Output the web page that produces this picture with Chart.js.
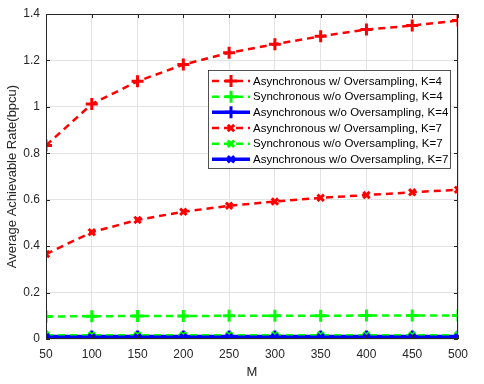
<!DOCTYPE html>
<html><head><meta charset="utf-8">
<script src="https://cdn.jsdelivr.net/npm/chart.js@4.4.0/dist/chart.umd.min.js"></script>
<style>html,body{margin:0;padding:0;background:#fff;}#wrap{width:484px;height:384px;}</style>
</head><body><div id="wrap"><canvas id="c" width="484" height="384"></canvas></div>
<script>
const M = [50,100,150,200,250,300,350,400,450,500];
const asyncOvK4 = [0.834,1.012,1.110,1.182,1.233,1.270,1.304,1.333,1.350,1.372];
const syncK4 = [0.097,0.098,0.099,0.099,0.100,0.100,0.100,0.101,0.101,0.101];
const asyncNoK4 = [0.011,0.011,0.011,0.011,0.011,0.011,0.011,0.011,0.011,0.011];
const asyncOvK7 = [0.366,0.460,0.513,0.548,0.574,0.592,0.608,0.620,0.632,0.643];
const syncK7 = [0.016,0.016,0.016,0.016,0.016,0.016,0.016,0.016,0.016,0.016];
const asyncNoK7 = [0.008,0.008,0.008,0.008,0.008,0.008,0.008,0.008,0.008,0.008];
const labels = ["Asynchronous w/ Oversampling, K=4","Synchronous w/o Oversampling, K=4","Asynchronous w/o Oversampling, K=4","Asynchronous w/ Oversampling, K=7","Synchronous w/o Oversampling, K=7","Asynchronous w/o Oversampling, K=7"];
const yTicks = [0,0.2,0.4,0.6,0.8,1,1.2,1.4];

const RED='#ff0000', GREEN='#00ff00', BLUE='#0000ff';
const series = [
 {v:asyncOvK4, c:RED, dash:[7,5], w:2.5, ps:'cross', r:6},
 {v:syncK4, c:GREEN, dash:[7,5], w:2.5, ps:'cross', r:6},
 {v:asyncNoK4, c:BLUE, dash:[], w:3.5, ps:'cross', r:6},
 {v:asyncOvK7, c:RED, dash:[7,5], w:2.5, ps:'crossRot', r:4.5},
 {v:syncK7, c:GREEN, dash:[7,5], w:2.5, ps:'crossRot', r:4.5},
 {v:asyncNoK7, c:BLUE, dash:[], w:3.5, ps:'crossRot', r:4.5}
];
const datasets = series.map((s,i)=>({
  label: labels[i],
  data: M.map((m,j)=>({x:m,y:s.v[j]})),
  borderColor:s.c, backgroundColor:s.c, borderWidth:s.w, borderDash:s.dash,
  pointStyle:s.ps, pointRadius:s.r, pointBorderWidth:3, pointBorderColor:s.c,
  pointHoverRadius:s.r, fill:false, tension:0, order:6-i
}));

const FONT = "'Liberation Sans', Arial, sans-serif";
const framePlugin = {
  id:'frame',
  afterDraw(chart){
    const ctx=chart.ctx, a=chart.chartArea;
    ctx.save();
    ctx.strokeStyle='#262626'; ctx.lineWidth=1; ctx.setLineDash([]);
    ctx.strokeRect(a.left+0.5,a.top+0.5,a.right-a.left-1,a.bottom-a.top-1);
    const xs=chart.scales.x, ys=chart.scales.y;
    ctx.beginPath();
    M.forEach(m=>{const px=Math.round(xs.getPixelForValue(m))+0.5;
      ctx.moveTo(px,a.bottom);ctx.lineTo(px,a.bottom-4);ctx.moveTo(px,a.top);ctx.lineTo(px,a.top+4);});
    yTicks.forEach(t=>{const py=Math.round(ys.getPixelForValue(t))+0.5;
      ctx.moveTo(a.left,py);ctx.lineTo(a.left+4,py);ctx.moveTo(a.right,py);ctx.lineTo(a.right-4,py);});
    ctx.stroke();
    const lx=208, ly=70, lw=242, lh=98;
    ctx.fillStyle='#fff'; ctx.fillRect(lx,ly,lw,lh);
    ctx.strokeStyle='#262626'; ctx.lineWidth=0.8; ctx.strokeRect(lx+0.5,ly+0.5,lw,lh);
    ctx.font='11.5px '+FONT; ctx.textBaseline='middle'; ctx.textAlign='left';
    series.forEach((s,i)=>{
      const cy=ly+11+i*15.67;
      ctx.strokeStyle=s.c; ctx.lineWidth=s.w; ctx.setLineDash(s.dash);
      ctx.beginPath(); ctx.moveTo(212,cy); ctx.lineTo(250,cy); ctx.stroke();
      ctx.setLineDash([]); ctx.lineWidth=3;
      Chart.helpers.drawPoint(ctx,{pointStyle:s.ps,radius:s.r,borderWidth:3},231,cy);
      ctx.fillStyle='#000'; ctx.fillText(labels[i],253,cy+0.5);
    });
    ctx.restore();
  }
};

new Chart(document.getElementById('c'),{
  type:'line',
  data:{datasets},
  options:{
    responsive:false, animation:false, maintainAspectRatio:false,
    layout:{padding:{top:14,right:26,left:0,bottom:0}},
    plugins:{legend:{display:false},tooltip:{enabled:false}},
    scales:{
      x:{type:'linear',min:50,max:500,
        afterBuildTicks(s){s.ticks=M.map(v=>({value:v}));},
        afterFit(s){s.height=45;},
        grid:{color:'#e3e3e3',drawTicks:false},border:{display:false},
        ticks:{color:'#262626',font:{family:FONT,size:12},padding:8,maxRotation:0},
        title:{display:true,text:'M',color:'#262626',font:{family:FONT,size:13},padding:{top:2}}},
      y:{min:0,max:1.4,
        afterBuildTicks(s){s.ticks=yTicks.map(v=>({value:v}));},
        afterFit(s){s.width=46;},
        grid:{color:'#e3e3e3',drawTicks:false},border:{display:false},
        ticks:{color:'#262626',font:{family:FONT,size:12},padding:6,callback:v=>String(Math.round(v*10)/10)},
        title:{display:true,text:'Average Achievable Rate(bpcu)',color:'#262626',font:{family:FONT,size:13},padding:{top:5,bottom:0}}}
    }
  },
  plugins:[framePlugin]
});
</script></body></html>
